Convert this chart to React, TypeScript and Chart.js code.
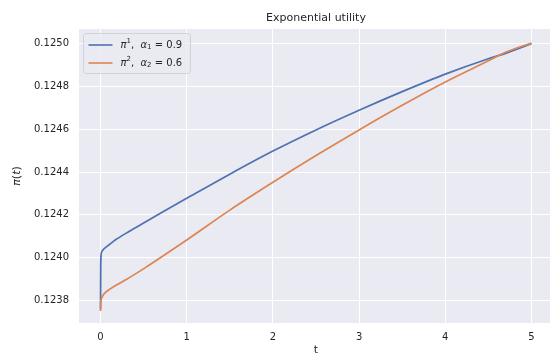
import React, { useEffect, useRef } from "react";
import { Chart, registerables } from "chart.js";

Chart.register(...registerables);

// ---- data ----
const tValues = [0, 0.002, 0.01, 0.03, 0.06, 0.1, 0.17, 0.33, 0.52, 0.72, 1, 1.5, 2, 2.5, 3, 3.5, 4, 4.5, 4.7, 5];
const pi1Values = [0.12376, 0.12396, 0.124022, 0.124036, 0.124048, 0.12406, 0.124082, 0.124122, 0.124166, 0.124213, 0.124277, 0.12439, 0.124498, 0.124597, 0.124689, 0.124776, 0.124858, 0.12493, 0.124955, 0.125];
const pi2Values = [0.12375, 0.12379, 0.123808, 0.123825, 0.123838, 0.12385, 0.123868, 0.123905, 0.123953, 0.124006, 0.124082, 0.124222, 0.124352, 0.124477, 0.124597, 0.124712, 0.124821, 0.12492, 0.12496, 0.125003];
const xTicks = [0, 1, 2, 3, 4, 5];
const yTicks = [0.1238, 0.124, 0.1242, 0.1244, 0.1246, 0.1248, 0.125];
const alphaValues = ["0.9", "0.6"];
const titleText = "Exponential utility";
const xLabel = "t";

const BLUE = "#4C72B0";
const ORANGE = "#DD8452";
const FONT = "'DejaVu Sans', sans-serif";
const TEXT = "#262626";

type Piece = { t: string; it?: boolean; size?: number; dy?: number };

function drawRich(ctx: CanvasRenderingContext2D, pieces: Piece[], x: number, y: number, base: number, align: "left" | "center") {
  const fontOf = (p: Piece) => `${p.it ? "italic " : ""}${p.size ?? base}px ${FONT}`;
  let total = 0;
  for (const p of pieces) {
    ctx.font = fontOf(p);
    total += ctx.measureText(p.t).width;
  }
  let cx = align === "center" ? x - total / 2 : x;
  ctx.textAlign = "left";
  ctx.textBaseline = "middle";
  for (const p of pieces) {
    ctx.font = fontOf(p);
    ctx.fillText(p.t, cx, y + (p.dy ?? 0));
    cx += ctx.measureText(p.t).width;
  }
}

const decorPlugin = {
  id: "decor",
  beforeDraw(chart: any) {
    const { ctx, chartArea } = chart;
    ctx.save();
    ctx.fillStyle = "#EAEAF2";
    ctx.fillRect(chartArea.left, chartArea.top, chartArea.right - chartArea.left, chartArea.bottom - chartArea.top);
    ctx.restore();
  },
  afterDraw(chart: any) {
    const { ctx, chartArea } = chart;
    const cx = (chartArea.left + chartArea.right) / 2;
    const cy = (chartArea.top + chartArea.bottom) / 2;
    ctx.save();
    ctx.fillStyle = TEXT;
    // title
    ctx.font = `11px ${FONT}`;
    ctx.textAlign = "center";
    ctx.textBaseline = "middle";
    ctx.fillText(titleText, cx, 18);
    // x label
    ctx.fillText(xLabel, cx, 350);
    // y label
    ctx.save();
    ctx.translate(17, cy);
    ctx.rotate(-Math.PI / 2);
    drawRich(ctx, [{ t: "π", it: true }, { t: "(" }, { t: "t", it: true }, { t: ")" }], 0, 0, 11, "center");
    ctx.restore();
    // legend
    const lx = chartArea.left + 4.5;
    const ly = chartArea.top + 4.5;
    ctx.beginPath();
    ctx.roundRect(lx, ly, 107, 40, 3);
    ctx.fillStyle = "rgba(234,234,242,0.8)";
    ctx.fill();
    ctx.strokeStyle = "rgba(204,204,204,0.8)";
    ctx.lineWidth = 1;
    ctx.stroke();
    const rows = [
      { color: BLUE, idx: "1", a: alphaValues[0], y: ly + 11.5 },
      { color: ORANGE, idx: "2", a: alphaValues[1], y: ly + 29.5 },
    ];
    for (const r of rows) {
      ctx.beginPath();
      ctx.moveTo(lx + 5, r.y);
      ctx.lineTo(lx + 29, r.y);
      ctx.strokeStyle = r.color;
      ctx.lineWidth = 1.6;
      ctx.stroke();
      ctx.fillStyle = TEXT;
      drawRich(
        ctx,
        [
          { t: "π", it: true },
          { t: r.idx, size: 7, dy: -4 },
          { t: ",  " },
          { t: "α", it: true },
          { t: r.idx, size: 7, dy: 2.5 },
          { t: " = " + r.a },
        ],
        lx + 37,
        r.y,
        10,
        "left"
      );
    }
    ctx.restore();
  },
};

export default function App() {
  const ref = useRef<HTMLCanvasElement | null>(null);
  useEffect(() => {
    document.body.style.margin = "0";
    const canvas = ref.current!;
    const chart = new Chart(canvas, {
      type: "line",
      data: {
        datasets: [
          {
            label: "pi1",
            data: tValues.map((t, i) => ({ x: t, y: pi1Values[i] })),
            borderColor: BLUE,
            borderWidth: 1.7,
            pointRadius: 0,
            cubicInterpolationMode: "monotone",
            order: 1,
          },
          {
            label: "pi2",
            data: tValues.map((t, i) => ({ x: t, y: pi2Values[i] })),
            borderColor: ORANGE,
            borderWidth: 1.7,
            pointRadius: 0,
            cubicInterpolationMode: "monotone",
            order: 0,
          },
        ],
      },
      options: {
        animation: false,
        responsive: false,
        layout: { padding: { top: 29, right: 3, left: 0, bottom: 0 } },
        plugins: { legend: { display: false }, title: { display: false }, tooltip: { enabled: false } },
        scales: {
          x: {
            type: "linear",
            min: -0.25,
            max: 5.25,
            afterBuildTicks: (s: any) => {
              s.ticks = xTicks.map((v) => ({ value: v }));
            },
            afterFit: (s: any) => {
              s.height = 35;
            },
            grid: { color: "#FFFFFF", lineWidth: 1, drawTicks: false },
            border: { display: false },
            ticks: {
              padding: 8,
              color: TEXT,
              font: { family: FONT, size: 10 },
              callback: (v: any) => String(v),
              maxRotation: 0,
            },
          },
          y: {
            type: "linear",
            min: 0.123694,
            max: 0.125069,
            afterBuildTicks: (s: any) => {
              s.ticks = yTicks.map((v) => ({ value: v }));
            },
            afterFit: (s: any) => {
              s.width = 79;
            },
            grid: { color: "#FFFFFF", lineWidth: 1, drawTicks: false },
            border: { display: false },
            ticks: {
              padding: 10,
              color: TEXT,
              font: { family: FONT, size: 10 },
              callback: (v: any) => Number(v).toFixed(4),
            },
          },
        },
      },
      plugins: [decorPlugin],
    } as any);
    return () => chart.destroy();
  }, []);
  return (
    <div style={{ width: 550, height: 358, overflow: "hidden", background: "#fff" }}>
      <canvas ref={ref} width={556} height={358} style={{ display: "block" }} />
    </div>
  );
}
